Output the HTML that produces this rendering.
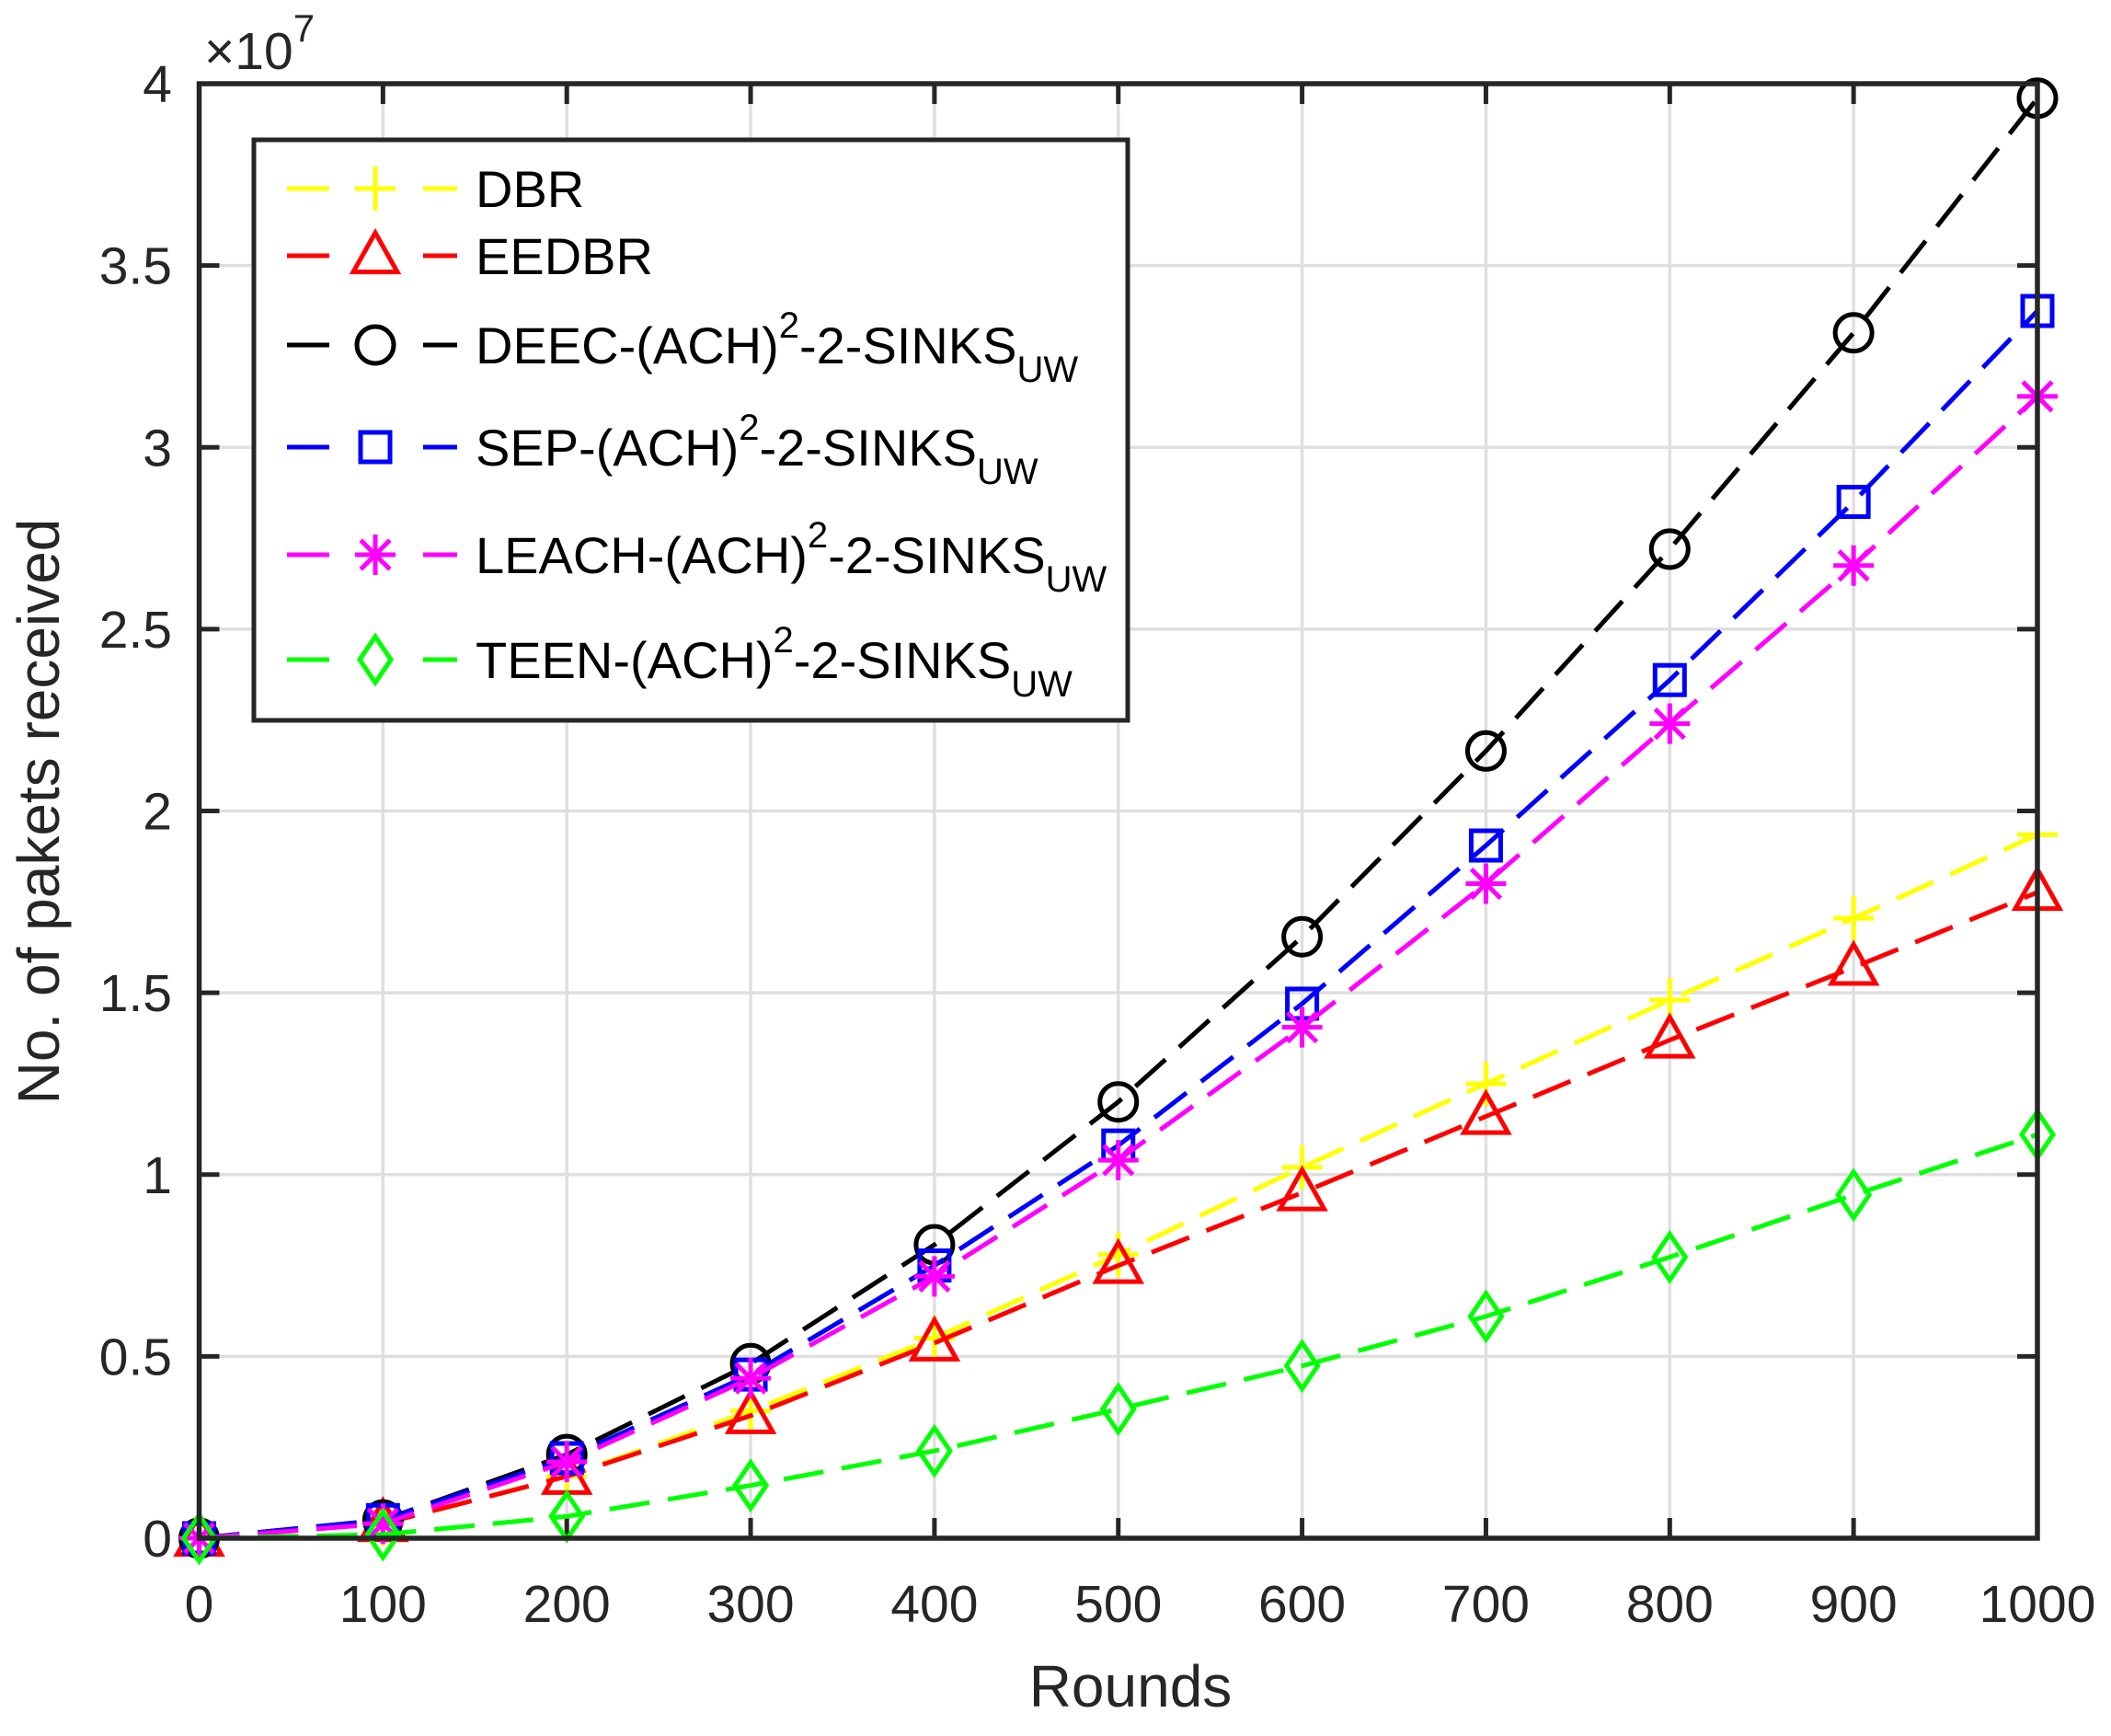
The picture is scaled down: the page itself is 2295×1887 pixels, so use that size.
<!DOCTYPE html>
<html><head><meta charset="utf-8"><style>
html,body{margin:0;padding:0;background:#fff;}
svg{display:block;font-family:"Liberation Sans",Arial,sans-serif;}
</style></head><body>
<svg id="s" width="2295" height="1887" viewBox="0 0 2295 1887" xmlns="http://www.w3.org/2000/svg"></svg>
<script>
const L=216.5,R=2215,T=91,B=1672;
const X=v=>L+(R-L)*v/1000, Y=v=>B-(B-T)*v/4;
let h='<rect width="2295" height="1887" fill="#fff"/>';
for(let i=1;i<10;i++){h+=`<line x1="${X(i*100)}" y1="${T}" x2="${X(i*100)}" y2="${B}" stroke="#dfdfdf" stroke-width="3.5"/>`;}
for(let j=1;j<8;j++){h+=`<line x1="${L}" y1="${Y(j*0.5)}" x2="${R}" y2="${Y(j*0.5)}" stroke="#dfdfdf" stroke-width="3.5"/>`;}
for(let i=1;i<10;i++){let x=X(i*100);h+=`<line x1="${x}" y1="${B}" x2="${x}" y2="${B-22}" stroke="#262626" stroke-width="5"/><line x1="${x}" y1="${T}" x2="${x}" y2="${T+22}" stroke="#262626" stroke-width="5"/>`;}
for(let j=1;j<8;j++){let y=Y(j*0.5);h+=`<line x1="${L}" y1="${y}" x2="${L+22}" y2="${y}" stroke="#262626" stroke-width="5"/><line x1="${R}" y1="${y}" x2="${R-22}" y2="${y}" stroke="#262626" stroke-width="5"/>`;}
for(let i=0;i<=10;i++){h+=`<text x="${X(i*100)}" y="1763" font-size="57" text-anchor="middle" fill="#262626">${i*100}</text>`;}
const yl=['0','0.5','1','1.5','2','2.5','3','3.5','4'];
yl.forEach((t,j)=>{h+=`<text x="187" y="${Y(j*0.5)+20}" font-size="57" text-anchor="end" fill="#262626">${t}</text>`;});
h+=`<text x="222" y="75" font-size="57" fill="#262626">×10<tspan dy="-30" font-size="42">7</tspan></text>`;
h+=`<text x="1229" y="1855" font-size="64" text-anchor="middle" fill="#262626">Rounds</text>`;
h+=`<text transform="translate(64,882) rotate(-90)" font-size="64" text-anchor="middle" fill="#262626">No. of pakets received</text>`;
const xs=[0,100,200,300,400,500,600,700,800,900,1000];
const S=[
 ['#ffff00','plus',[0,0.04,0.17,0.35,0.55,0.78,1.02,1.25,1.48,1.705,1.935]],
 ['#ff0000','tri',[0,0.04,0.17,0.337,0.537,0.75,0.95,1.16,1.37,1.57,1.776]],
 ['#000000','circ',[0,0.05,0.23,0.48,0.807,1.2,1.654,2.165,2.72,3.315,3.96]],
 ['#0000ff','sq',[0,0.05,0.22,0.45,0.75,1.08,1.47,1.905,2.36,2.85,3.375]],
 ['#ff00ff','star',[0,0.04,0.21,0.44,0.72,1.04,1.405,1.8,2.24,2.675,3.14]],
 ['#00ff00','dia',[0,0.01,0.06,0.145,0.24,0.355,0.474,0.61,0.773,0.944,1.11]]
];
function mk(t,x,y,c){const r=22,sw=5;const st=`fill="none" stroke="${c}" stroke-width="${sw}"`;
 if(t=='plus')return `<path d="M${x-r} ${y}H${x+r}M${x} ${y-r-2}V${y+r+2}" ${st}/>`;
 if(t=='tri')return `<path d="M${x} ${y-r-3}L${x+r+2} ${y+r*0.8}H${x-r-2}Z" ${st}/>`;
 if(t=='circ')return `<circle cx="${x}" cy="${y}" r="${r-2}" ${st}/>`;
 if(t=='sq')return `<rect x="${x-16}" y="${y-16}" width="32" height="32" ${st}/>`;
 if(t=='dia')return `<path d="M${x} ${y-r-3}L${x+r-5} ${y}L${x} ${y+r+3}L${x-r+5} ${y}Z" ${st}/>`;
 if(t=='star'){let a=r*0.72;return `<path d="M${x-r} ${y}H${x+r}M${x} ${y-r}V${y+r}M${x-a} ${y-a}L${x+a} ${y+a}M${x-a} ${y+a}L${x+a} ${y-a}" ${st}/>`;}
}
S.forEach(([c,t,d])=>{let p=d.map((v,i)=>`${X(xs[i]).toFixed(1)},${Y(v).toFixed(1)}`).join(' ');
 h+=`<polyline points="${p}" fill="none" stroke="${c}" stroke-width="5" stroke-dasharray="44 20"/>`;
 d.forEach((v,i)=>{h+=mk(t,X(xs[i]),Y(v),c);});});
h+=`<rect x="${L}" y="${T}" width="${R-L}" height="${B-T}" fill="none" stroke="#262626" stroke-width="5.5"/>`;
h+=`<rect x="276" y="152" width="950" height="631" fill="#fff" stroke="#262626" stroke-width="5"/>`;
const sup=n=>`${n}<tspan dy="-28" font-size="40">2</tspan><tspan dy="28">-2-SINKS</tspan><tspan dy="20" font-size="40">UW</tspan>`;
const names=['DBR','EEDBR',sup('DEEC-(ACH)'),sup('SEP-(ACH)'),sup('LEACH-(ACH)'),sup('TEEN-(ACH)')];
const ry=[205,278,375,486,603,717];
S.forEach(([c,t],i)=>{let y=ry[i];
 h+=`<line x1="312" y1="${y}" x2="358" y2="${y}" stroke="${c}" stroke-width="5"/><line x1="460" y1="${y}" x2="497" y2="${y}" stroke="${c}" stroke-width="5"/>`;
 h+=mk(t,408,y,c);
 h+=`<text x="517" y="${y+20}" font-size="56" fill="#000">${names[i]}</text>`;});
document.getElementById('s').innerHTML=h;
</script>
</body></html>
